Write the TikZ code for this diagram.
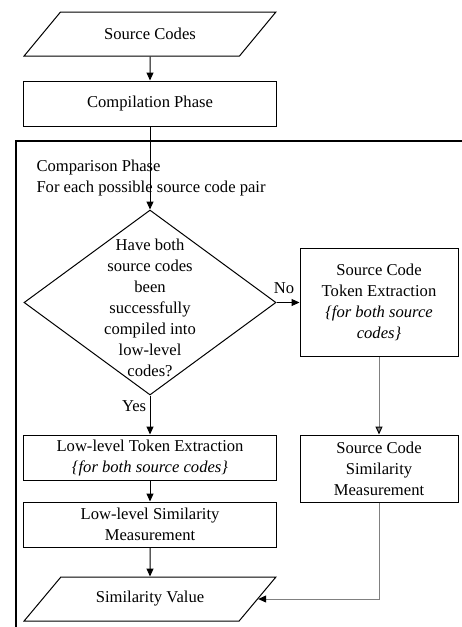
\documentclass[tikz,border=0pt]{standalone}
\usepackage{fontspec}
\setmainfont{Liberation Serif}
\usetikzlibrary{arrows.meta,positioning,shapes.geometric}

\begin{document}
\begin{tikzpicture}[->,>={Triangle[length=8pt,width=7pt]},x=1pt,y=1pt,
  line width=1pt,font=\fontsize{16.6pt}{21pt}\selectfont,
  proc node/.style={rectangle,draw,minimum width=253pt,minimum height=45pt,align=center,inner sep=2pt},
  io node/.style={trapezium,draw,trapezium left angle=42.5,trapezium right angle=137.5,
    trapezium stretches=true,minimum width=252pt,minimum height=44pt},
  choice node/.style={diamond,draw,minimum width=252pt,minimum height=185pt,inner sep=0pt},
  side node/.style={proc node,minimum width=158pt}]
  \useasboundingbox (0,0) rectangle (462,-627);
  \node[io node] (src) at (150,-34) {Source Codes};
  \node[proc node] (comp) [below=24pt of src] {Compilation Phase};
  % comparison frame
  \draw[-,line width=1.3pt] (463,-141) -| (16,-628);
  \node[anchor=north west,align=left,inner sep=0pt] (cmplbl) at (36,-159)
    {Comparison Phase\\For each possible source code pair};
  \node[choice node] (chk) [below=83pt of comp] {};
  \node[align=center] (chktxt) at ([yshift=-5pt]chk.center)
    {Have both\\source codes\\been\\successfully\\compiled into\\low-level\\codes?};
  \node[side node,minimum height=108pt] (srctok) [right=23pt of chk]
    {Source Code\\Token Extraction\\\textit{\{for both source}\\\textit{codes\}}};
  \node[proc node] (lowtok) [below=39pt of chk]
    {Low-level Token Extraction\\\textit{\{for both source codes\}}};
  \node[proc node] (lowsim) [below=21pt of lowtok] {Low-level Similarity\\Measurement};
  \node[io node] (simval) [below=29pt of lowsim] {Similarity Value};
  \node[side node,minimum height=67pt] (srcsim) [below=77.5pt of srctok]
    {Source Code\\Similarity\\Measurement};
  \path
    (src) edge (comp)
    (comp) edge (chk)
    (chk) edge node[above=5pt,xshift=-4pt] {No} (srctok)
    (chk) edge node[left,pos=0.28] {Yes} (lowtok)
    (lowtok) edge (lowsim)
    (lowsim) edge (simval);
  \path[gray] (srctok) edge[-{Triangle[length=8pt,width=7pt,black]}] (srcsim);
  \draw[gray,-{Triangle[length=8pt,width=7pt,black]}] (srcsim) |- (simval);
\end{tikzpicture}
\end{document}
